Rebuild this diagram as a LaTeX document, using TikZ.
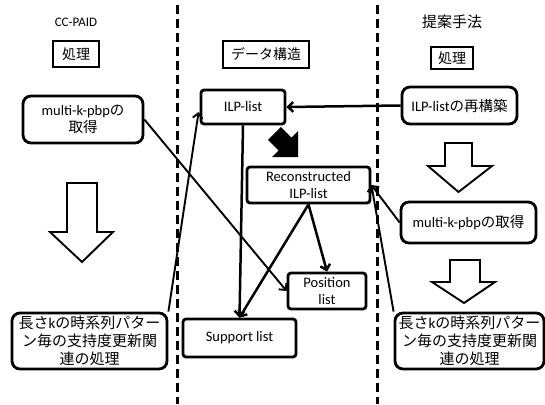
\documentclass[tikz,border=0pt]{standalone}
\usepackage{fontspec}
\setmainfont{Carlito}
\newfontfamily\jp{Noto Sans CJK JP}
\usetikzlibrary{arrows.meta,calc}
\begin{document}
\begin{tikzpicture}[x=1pt,y=-1pt,
  box/.style={draw,line width=2.8pt,inner sep=0pt,align=center,font=\fontsize{14.5}{17}\selectfont},
  proc/.style={box,rounded corners=8pt},
  databox/.style={box,rounded corners=3pt},
  bigproc/.style={proc,font=\fontsize{15}{18}\selectfont},
  hdrbox/.style={draw,line width=2.8pt,inner sep=0pt,font=\fontsize{14}{17}\selectfont\jp},
  title/.style={inner sep=0pt},
  conn/.style={line width=2.5pt,-{Straight Barb[length=5pt,width=10pt]}},
  thinconn/.style={line width=1.9pt,-{Straight Barb[length=5pt,width=10pt]}},
  hollow/.style={draw,line width=1.9pt,fill=white,line join=miter},
  divider/.style={line width=3pt,dash pattern=on 9pt off 5pt}]
\useasboundingbox (0,0) rectangle (545,404);

% dividers
\coordinate (d1t) at (177,5); \coordinate (d1b) at (177,404);
\coordinate (d2t) at (377,5); \coordinate (d2b) at (377,404);
\draw[divider] (d1t) -- (d1b);
\draw[divider] (d2t) -- (d2b);

% titles
\node[title,font=\fontsize{13}{15}\selectfont] (tl) at (76,22) {CC-PAID};
\node[title,font=\fontsize{15}{18}\selectfont\jp] (tr) at (452,22) {提案手法};

% header boxes
\node[hdrbox,minimum width=46pt,minimum height=26pt] (procL) at (76,54) {処理};
\node[hdrbox,minimum width=86pt,minimum height=27pt] (dataH) at (266,54.5) {データ構造};
\node[hdrbox,minimum width=42pt,minimum height=22pt] (procR) at (452,58) {処理};

% process boxes
\node[proc,minimum width=120pt,minimum height=47pt] (multiL) at (83,119.5)
  {multi-k-pbp{\jp の}\\{\jp 取得}};
\node[proc,minimum width=115pt,minimum height=37pt] (rebuild) at (459.5,105.5)
  {ILP-list{\jp の再構築}};
\node[proc,minimum width=135pt,minimum height=41pt] (multiR) at (468.5,222.5)
  {multi-k-pbp{\jp の取得}};
\node[bigproc,minimum width=155pt,minimum height=56pt] (botL) at (89.5,341)
  {{\jp 長さ}k{\jp の時系列パター}\\{\jp ン毎の支持度更新関}\\{\jp 連の処理}};
\node[bigproc,minimum width=149pt,minimum height=56pt] (botR) at (469.5,341)
  {{\jp 長さ}k{\jp の時系列パター}\\{\jp ン毎の支持度更新関}\\{\jp 連の処理}};

% data boxes
\node[databox,minimum width=84pt,minimum height=34pt] (ilp) at (243,107) {ILP-list};
\node[databox,minimum width=123pt,minimum height=36pt] (recon) at (308.5,185) {Reconstructed\\ILP-list};
\node[databox,minimum width=78pt,minimum height=36pt] (pos) at (327,291) {Position\\list};
\node[databox,minimum width=113pt,minimum height=38pt] (sup) at (239.5,338) {Support list};

% hollow arrows
\draw[hollow] (67,183) -- (97,183) -- (97,232) -- (113,232) -- (82,262) -- (50,232) -- (67,232) -- cycle;
\draw[hollow] (445,143) -- (472,143) -- (472,166) -- (492,166) -- (458.5,192) -- (428,166) -- (445,166) -- cycle;
\draw[hollow] (450,260) -- (480,260) -- (480,282) -- (495,282) -- (464,303) -- (432,282) -- (450,282) -- cycle;

% black block arrow
\fill (280.8,127) -- (291.4,137.6) -- (298,131) -- (298,157) -- (272,157) -- (278.6,150.4) -- (268,139.8) -- cycle;

% connectors
\draw[conn] (rebuild.west) -- (ilp.east);
\draw[thinconn] (multiL.east) -- (pos.west);
\draw[thinconn] (botL.north east) -- ($(ilp.west)+(-1,5)$);
\draw[conn] (ilp.south) -- (sup.north);
\draw[conn] (recon.south) -- (sup.north);
\draw[conn] (recon.south) -- (pos.north);
\draw[thinconn] (multiR.west) -- (recon.east);
\draw[thinconn] (botR.north west) -- (recon.east);
\end{tikzpicture}
\end{document}
